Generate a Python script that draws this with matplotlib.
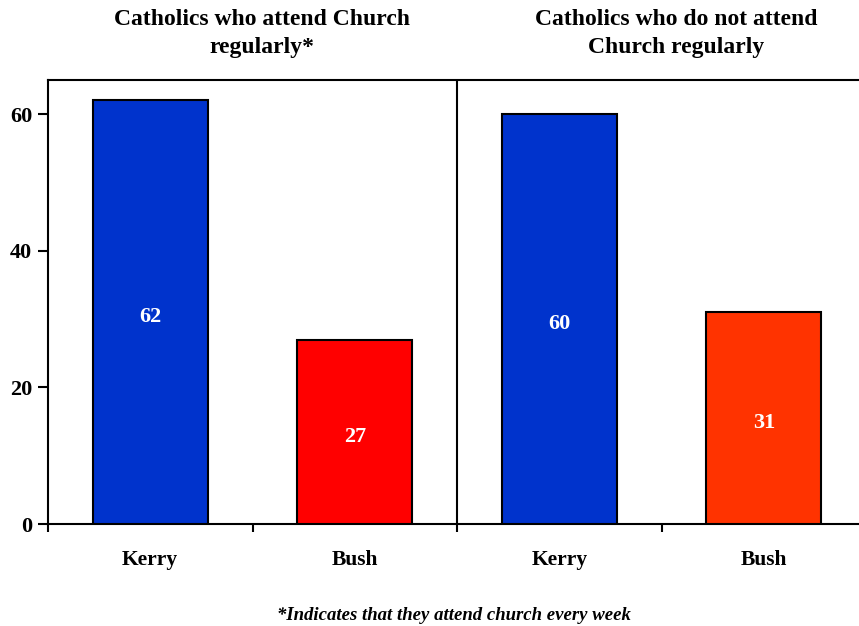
import matplotlib
matplotlib.use("Agg")
import matplotlib.pyplot as plt

categories = ["Kerry", "Bush", "Kerry", "Bush"]
values = [62, 27, 60, 31]
colors = ["#0033CC", "#FF0000", "#0033CC", "#FF3300"]
yticks = [0, 20, 40, 60]
titles = ["Catholics who attend Church\nregularly*", "Catholics who do not attend\nChurch regularly"]
footnote = "*Indicates that they attend church every week"

plt.rcParams['font.family'] = ['Liberation Serif', 'DejaVu Serif']

W, H = 859, 626
fig = plt.figure(figsize=(W / 100, H / 100), dpi=100)
ax = fig.add_axes([48 / W, (H - 524) / H, 818 / W, 444 / H])

x = list(range(len(values)))
bars = ax.bar(x, values, width=0.56, color=colors, edgecolor="black", linewidth=1.5, zorder=3)
for xi, v in zip(x, values):
    ax.text(xi, v / 2 - 0.7, str(v), ha="center", va="center", color="white",
            fontsize=16, fontweight="bold")

ax.set_xlim(-0.5, 3.5)
ax.set_ylim(0, 65)
ax.set_yticks(yticks)
ax.set_yticklabels([str(t) for t in yticks], fontsize=16, fontweight="bold")
ax.set_xticks(x)
ax.set_xticklabels(categories, fontsize=15.5, fontweight="bold")
ax.tick_params(axis="x", which="major", length=0, pad=19)
ax.set_xticks([-0.5, 0.5, 1.5, 2.5, 3.5], minor=True)
ax.tick_params(axis="x", which="minor", length=6, width=1.5, direction="out")
ax.tick_params(axis="y", length=7, width=1.5, direction="out", pad=4.5)

for s in ["left", "bottom", "top"]:
    ax.spines[s].set_linewidth(1.5)
ax.spines["right"].set_visible(False)
ax.axvline(1.5, color="black", linewidth=1.5)

fig.text(262 / W, 1 - 33.5 / H, titles[0], ha="center", va="center",
         fontsize=17, fontweight="bold", linespacing=1.42)
fig.text(676 / W, 1 - 33.5 / H, titles[1], ha="center", va="center",
         fontsize=17, fontweight="bold", linespacing=1.42)
fig.text(454 / W, 1 - 616 / H, footnote, ha="center", va="center",
         fontsize=13.5, fontweight="bold", style="italic")

fig.savefig("out.png", dpi=100, facecolor="white")
